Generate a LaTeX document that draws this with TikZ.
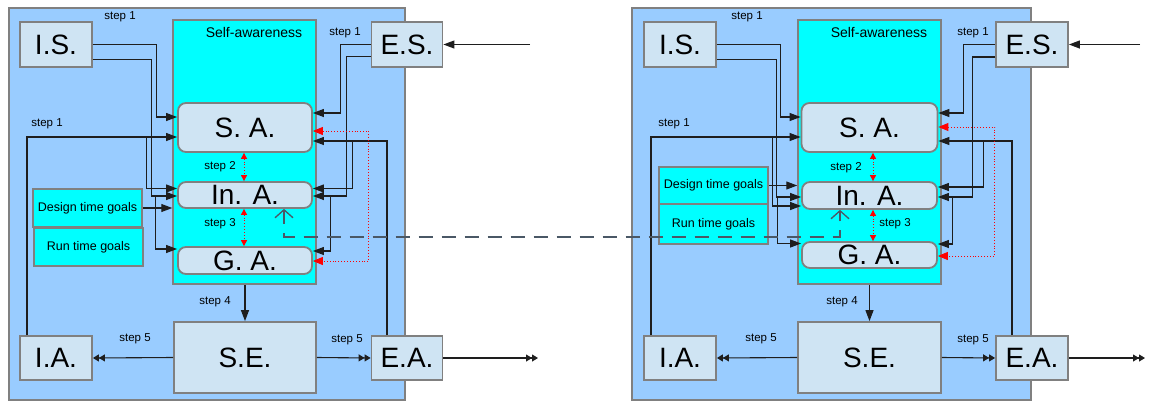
\documentclass[tikz,border=0pt]{standalone}
\usepackage{fontspec}
\setmainfont{Liberation Sans}
\usetikzlibrary{arrows.meta,calc}

\definecolor{panelblue}{HTML}{99CCFF}
\definecolor{unitblue}{HTML}{CFE4F3}
\definecolor{awarecyan}{HTML}{00FFFF}
\definecolor{boxgray}{HTML}{808080}
\definecolor{wirecol}{HTML}{1E1E1E}
\definecolor{linkgray}{HTML}{4A5866}

\tikzset{
  panel/.style={draw=boxgray, line width=1.5pt, fill=panelblue, inner sep=0pt},
  awarebox/.style={draw=boxgray, line width=1.5pt, fill=awarecyan, inner sep=0pt},
  unit/.style={draw=boxgray, line width=1.8pt, fill=unitblue, inner sep=0pt,
    font=\fontsize{28}{28}\selectfont},
  level/.style={unit, rounded corners=8pt},
  goal/.style={draw=boxgray, line width=1.8pt, fill=awarecyan, inner sep=0pt,
    font=\fontsize{12.5}{14}\selectfont},
  lbl/.style={inner sep=0pt, font=\fontsize{11.5}{13}\selectfont},
  title/.style={inner sep=0pt, font=\fontsize{14}{16}\selectfont},
  wire/.style={draw=wirecol, line width=1.1pt},
  arr/.style={wire, -{Triangle[length=11pt,width=8pt]}},
  dbl/.style={wire, -{Triangle[length=6pt,width=7pt]Triangle[length=6pt,width=7pt]}},
  feedback/.style={draw=red, line width=0.9pt, dotted,
    {Triangle[length=10pt,width=8pt]}-{Triangle[length=10pt,width=8pt]}},
  stepdots/.style={draw=red, line width=0.9pt, dotted,
    {Triangle[length=6pt,width=6pt]}-{Triangle[length=6pt,width=6pt]}},
  link/.style={draw=linkgray, line width=1.3pt, dash pattern=on 14pt off 9pt,
    {Straight Barb[length=8pt,width=18pt]}-{Straight Barb[length=8pt,width=18pt]}},
}

\begin{document}
\begin{tikzpicture}[x=1pt,y=-1pt]
\useasboundingbox (0,0) rectangle (1149,402);

% ---------------- first system ----------------
\node[panel, minimum width=396pt, minimum height=392pt] (Lpanel) at (207,204) {};
\node[awarebox, minimum width=143pt, minimum height=264pt] (Laware) at (244.5,152) {};
\node[title] (Ltitle) at (254,32) {Self-awareness};

\node[unit, minimum width=72pt, minimum height=45pt] (LIS) at (56,44.5) {I.S.};
\node[unit, minimum width=71pt, minimum height=45pt] (LES) at (407,44.5) {E.S.};
\node[level, minimum width=134pt, minimum height=49pt] (LSA) at (245,127.5) {S. A.};
\node[level, minimum width=134pt, minimum height=26pt] (LInA) at (245,195) {In. A.};
\node[level, minimum width=134pt, minimum height=27pt] (LGA) at (245,260.5) {G. A.};
\node[goal, minimum width=109pt, minimum height=38pt] (LDG) at (87.5,208) {Design time goals};
\node[goal, minimum width=109pt, minimum height=38pt] (LRG) at (88.5,247) {Run time goals};
\node[unit, minimum width=142pt, minimum height=71pt] (LSE) at (245,357.5) {S.E.};
\node[unit, minimum width=72pt, minimum height=44pt] (LIA) at (56,358) {I.A.};
\node[unit, minimum width=71pt, minimum height=44pt] (LEA) at (407,358) {E.A.};

\node[lbl] (Lstep1a) at (120,17) {step 1};
\node[lbl] (Lstep1b) at (345,33) {step 1};
\node[lbl] (Lstep1c) at (47,124) {step 1};
\node[lbl] (Lstep2) at (220,167) {step 2};
\node[lbl] (Lstep3) at (220,224) {step 3};
\node[lbl] (Lstep4) at (215,302) {step 4};
\node[lbl] (Lstep5a) at (135,339) {step 5};
\node[lbl] (Lstep5b) at (347,340) {step 5};

% sensors into the awareness levels
\draw[arr] (LIS.east) -- ++(64,0) |- ([yshift=10.5pt]LSA.west);
\draw[arr] ([yshift=-15pt]LIS.east) -- ++(59,0) |- ([yshift=-1pt]LInA.west);
\draw[arr] ([xshift=-22pt,yshift=-1pt]LInA.west) |- ([yshift=11.5pt]LGA.west);
\draw[arr] ([xshift=-29pt]LIA.north) |- ([yshift=-9.5pt]LSA.west);
\draw[arr] ([xshift=-31pt,yshift=-9.5pt]LSA.west) |- ([yshift=6.5pt]LInA.west);
\draw[arr] (LDG.east) -- (LDG.east -| Laware.west);
\draw[arr] (LES.west) -- ++(-30.5,0) |- ([yshift=14.5pt]LSA.east);
\draw[arr] ([yshift=-12pt]LES.west) -- ++(-24.5,0) |- ([yshift=-1pt]LInA.east);
\draw[arr] ([xshift=18pt,yshift=-1pt]LInA.east) |- ([yshift=9.5pt]LGA.east);
\draw[arr] ([xshift=-20pt]LEA.north) |- ([yshift=-13.5pt]LSA.east);
\draw[arr] ([xshift=40pt,yshift=-13.5pt]LSA.east) |- ([yshift=6.5pt]LInA.east);
\draw[feedback] ([yshift=-3.5pt]LSA.east) -- ++(56,0) |- ([yshift=-0.5pt]LGA.east);
\draw[stepdots] ([xshift=-1pt]LSA.south) -- ([xshift=-1pt]LInA.north);
\draw[stepdots] ([xshift=-1pt]LInA.south) -- ([xshift=-1pt]LGA.north);

% effectors
\draw[arr] (LSE.north |- Laware.south) -- (LSE.north);
\draw[dbl] (LSE.west) -- (LIA.east);
\draw[dbl] (LSE.east) -- (LEA.west);
\coordinate (Lsink) at (538,358);
\draw[dbl] (LEA.east) -- (Lsink);
\coordinate (Lsource) at (530,44.5);
\draw[arr] (Lsource) -- (LES.east);

% ---------------- second system ----------------
\node[panel, minimum width=399pt, minimum height=392pt] (Rpanel) at (831.5,204) {};
\node[awarebox, minimum width=143pt, minimum height=264pt] (Raware) at (869.5,152) {};
\node[title] (Rtitle) at (879,32) {Self-awareness};

\node[unit, minimum width=72pt, minimum height=45pt] (RIS) at (680,44.5) {I.S.};
\node[unit, minimum width=72pt, minimum height=45pt] (RES) at (1032,44.5) {E.S.};
\node[level, minimum width=136pt, minimum height=49pt] (RSA) at (869.5,127.5) {S. A.};
\node[level, minimum width=135pt, minimum height=27pt] (RInA) at (869.5,195.5) {In. A.};
\node[level, minimum width=135pt, minimum height=26pt] (RGA) at (869.5,255) {G. A.};
\node[goal, minimum width=109pt, minimum height=37pt] (RDG) at (713.5,185.5) {Design time goals};
\node[goal, minimum width=109pt, minimum height=40pt] (RRG) at (713.5,224) {Run time goals};
\node[unit, minimum width=143pt, minimum height=71pt] (RSE) at (869.5,357.5) {S.E.};
\node[unit, minimum width=72pt, minimum height=44pt] (RIA) at (680,358) {I.A.};
\node[unit, minimum width=72pt, minimum height=44pt] (REA) at (1032,358) {E.A.};

\node[lbl] (Rstep1a) at (747,17) {step 1};
\node[lbl] (Rstep1b) at (973,33) {step 1};
\node[lbl] (Rstep1c) at (674,124) {step 1};
\node[lbl] (Rstep2) at (846,168) {step 2};
\node[lbl] (Rstep3) at (895,224) {step 3};
\node[lbl] (Rstep4) at (842,302) {step 4};
\node[lbl] (Rstep5a) at (761,339) {step 5};
\node[lbl] (Rstep5b) at (973,340) {step 5};

\draw[arr] (RIS.east) -- ++(64,0) |- ([yshift=10.5pt]RSA.west);
\draw[arr] ([yshift=-15pt]RIS.east) -- ++(60,0) |- ([yshift=-1.5pt]RInA.west);
\draw[arr] ([xshift=-23.5pt,yshift=-1.5pt]RInA.west) |- ([yshift=11.5pt]RGA.west);
\draw[arr] ([xshift=-29pt]RIA.north) |- ([yshift=-9.5pt]RSA.west);
\draw[arr] ([xshift=-28.5pt,yshift=-9.5pt]RSA.west) |- ([yshift=-10.5pt]RInA.west);
\draw[arr] (RDG.east) -- (RDG.east -| Raware.west);
\draw[arr] (RES.west) -- ++(-32,0) |- ([yshift=14.5pt]RSA.east);
\draw[arr] ([yshift=-12.5pt]RES.west) -- ++(-23,0) |- ([yshift=-1.5pt]RInA.east);
\draw[arr] ([xshift=15pt,yshift=-1.5pt]RInA.east) |- ([yshift=11pt]RGA.east);
\draw[arr] ([xshift=-20pt]REA.north) |- ([yshift=-13.5pt]RSA.east);
\draw[arr] ([xshift=45.5pt,yshift=-13.5pt]RSA.east) |- ([yshift=8.5pt]RInA.east);
\draw[feedback] ([yshift=0.5pt]RSA.east) -- ++(56.5,0) |- ([yshift=-1pt]RGA.east);
\draw[stepdots] ([xshift=3.5pt]RSA.south) -- ([xshift=3.5pt]RInA.north);
\draw[stepdots] ([xshift=3.5pt]RInA.south) -- ([xshift=3.5pt]RGA.north);

\draw[arr] (RSE.north |- Raware.south) -- (RSE.north);
\draw[dbl] (RSE.west) -- (RIA.east);
\draw[dbl] (RSE.east) -- (REA.west);
\coordinate (Rsink) at (1145,358);
\draw[dbl] (REA.east) -- (Rsink);
\coordinate (Rsource) at (1140,44.5);
\draw[arr] (Rsource) -- (RES.east);

% link between the two introspection levels
\draw[link] ([xshift=39pt]LInA.south) -- ++(0,28) -| ([xshift=-29.5pt]RInA.south);
\end{tikzpicture}
\end{document}
